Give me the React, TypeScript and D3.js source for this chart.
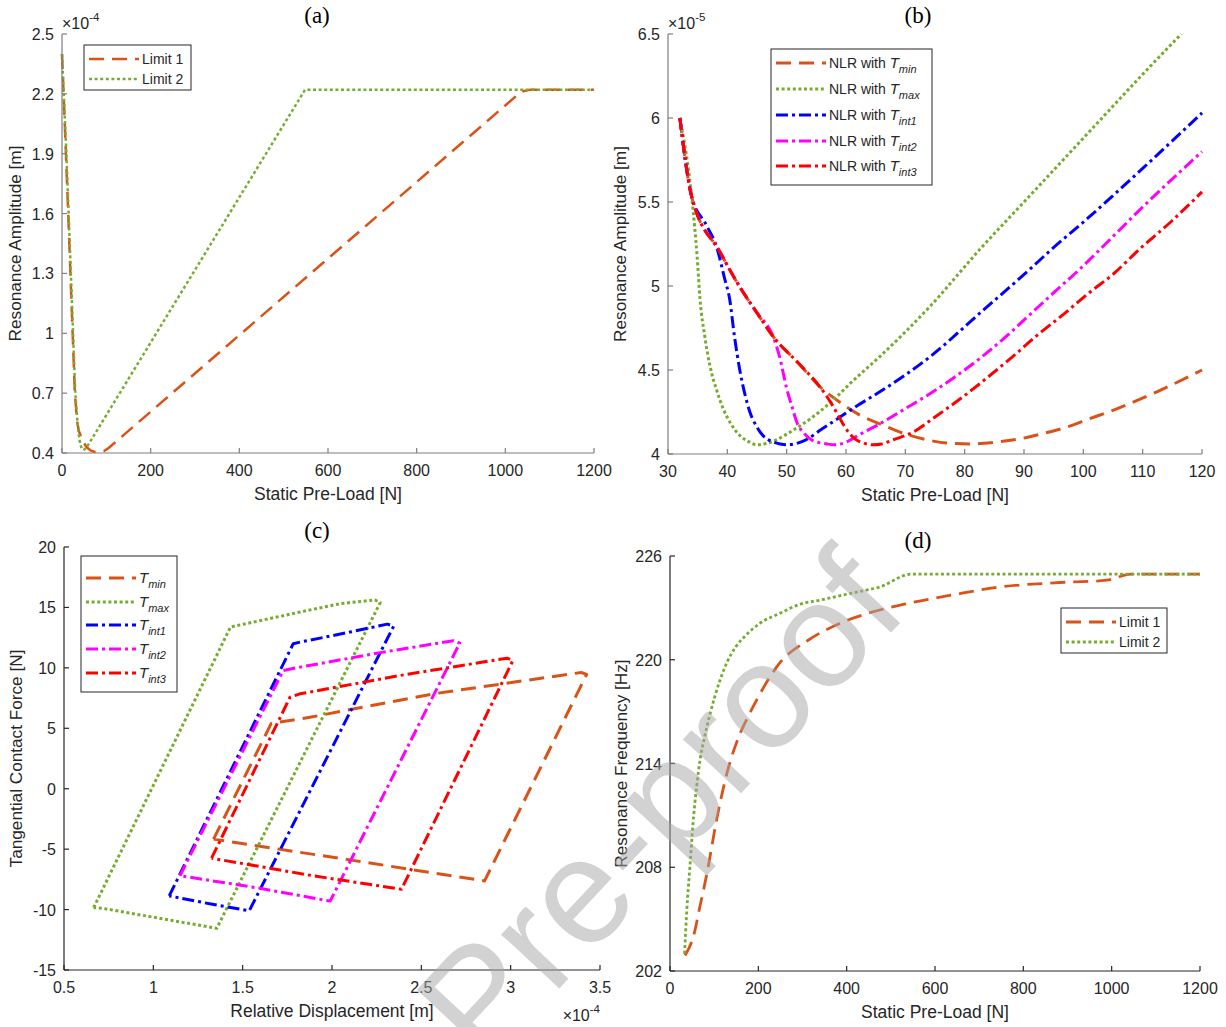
import { useEffect, useRef } from 'react'
import * as d3 from 'd3'

type Pt = [number, number]

// (a) resonance amplitude [x1e-4 m] vs static pre-load [N]
const aLimit1: Pt[] = [[0, 2.4], [8, 1.95], [14, 1.6], [19, 1.3], [24, 1.0], [29, 0.7], [34, 0.56], [38, 0.51], [45, 0.47], [55, 0.43], [65, 0.412], [75, 0.405], [85, 0.405], [95, 0.41], [105, 0.425], [113, 0.44], [1025, 2.19], [1040, 2.213], [1055, 2.22], [1200, 2.22]]
const aLimit2: Pt[] = [[0, 2.4], [9, 1.95], [15, 1.6], [20, 1.3], [25, 1.0], [30, 0.7], [35, 0.55], [38, 0.49], [41, 0.445], [45, 0.42], [48, 0.415], [52, 0.42], [58, 0.437], [548, 2.22], [1200, 2.22]]
const aXTicks = [0, 200, 400, 600, 800, 1000, 1200]
const aYTicks = [0.4, 0.7, 1, 1.3, 1.6, 1.9, 2.2, 2.5]

// (b) resonance amplitude [x1e-5 m] vs static pre-load [N]
const bTmin: Pt[] = [[32, 6.0], [34, 5.53], [38.8, 5.2], [42, 5.0], [45, 4.84], [47.7, 4.7], [52, 4.54], [55.6, 4.4], [58.5, 4.32], [62.4, 4.23], [66, 4.175], [69.1, 4.13], [73.6, 4.085], [77, 4.065], [80.9, 4.06], [85, 4.07], [89.3, 4.09], [93, 4.12], [97.2, 4.16], [101, 4.21], [105, 4.26], [108.5, 4.31], [112.4, 4.37], [116, 4.43], [120, 4.5]]
const bTmax: Pt[] = [[32, 6.0], [34, 5.53], [34.5, 5.35], [34.9, 5.18], [35.4, 4.92], [36.2, 4.7], [37.1, 4.52], [38.2, 4.38], [39.3, 4.27], [40.6, 4.18], [42.1, 4.11], [43.5, 4.075], [45, 4.055], [48, 4.08], [51, 4.14], [54, 4.21], [57.8, 4.32], [61, 4.43], [65.7, 4.58], [74.2, 4.88], [82.6, 5.22], [90, 5.5], [100, 5.88], [110, 6.26], [116.5, 6.5]]
const bTint1: Pt[] = [[32, 6.0], [34, 5.53], [36.5, 5.36], [38.3, 5.22], [39.5, 5.05], [40.4, 4.92], [41.2, 4.7], [42.1, 4.5], [43, 4.35], [43.8, 4.25], [45, 4.16], [46, 4.11], [47.5, 4.075], [48.9, 4.06], [50, 4.055], [53, 4.08], [56, 4.15], [59, 4.22], [62, 4.29], [65.7, 4.37], [74.2, 4.58], [82.6, 4.84], [91, 5.1], [94.7, 5.22], [100, 5.38], [110, 5.7], [120, 6.03]]
const bTint2: Pt[] = [[32, 6.0], [34, 5.53], [38.8, 5.2], [42, 5.0], [45, 4.84], [47.7, 4.7], [48.8, 4.58], [50, 4.39], [51, 4.27], [51.7, 4.19], [53, 4.12], [54.4, 4.08], [56.8, 4.06], [58, 4.055], [60, 4.07], [62, 4.11], [65.7, 4.18], [70, 4.27], [74.2, 4.36], [78, 4.45], [82.6, 4.57], [87, 4.7], [91, 4.83], [95, 4.96], [99.4, 5.1], [102.3, 5.2], [110, 5.47], [120, 5.8]]
const bTint3: Pt[] = [[32, 6.0], [34, 5.53], [38.8, 5.2], [42, 5.0], [45, 4.84], [47.7, 4.7], [52, 4.54], [55.6, 4.4], [57.8, 4.285], [59, 4.21], [60.2, 4.14], [61.5, 4.09], [63, 4.065], [64.6, 4.055], [66, 4.06], [68, 4.085], [71.3, 4.13], [75, 4.22], [79.7, 4.34], [84, 4.46], [88.1, 4.58], [92, 4.7], [96.6, 4.83], [101, 4.96], [105, 5.07], [109.5, 5.22], [115, 5.39], [120, 5.56]]
const bXTicks = [30, 40, 50, 60, 70, 80, 90, 100, 110, 120]
const bYTicks = [4, 4.5, 5, 5.5, 6, 6.5]

// (c) tangential contact force [N] vs relative displacement [x1e-4 m]
const cTmin: Pt[] = [[1.337, -4.17], [1.66, 5.4], [1.877, 5.91], [2.567, 7.85], [3.395, 9.62], [3.425, 9.45], [2.854, -7.63], [2.134, -5.97], [1.337, -4.17]]
const cTmax: Pt[] = [[0.666, -9.84], [1.432, 13.38], [1.821, 14.62], [2.045, 15.31], [2.24, 15.62], [2.27, 15.4], [1.355, -11.55], [1.027, -10.7], [0.717, -9.9], [0.666, -9.84]]
const cTint1: Pt[] = [[1.089, -8.87], [1.783, 12.0], [1.821, 12.13], [2.101, 12.96], [2.31, 13.62], [2.345, 13.45], [1.537, -10.1], [1.315, -9.52], [1.089, -8.87]]
const cTint2: Pt[] = [[1.149, -7.2], [1.727, 9.78], [1.821, 10.06], [2.287, 11.3], [2.68, 12.25], [2.715, 12.05], [1.99, -9.3], [1.581, -8.2], [1.149, -7.2]]
const cTint3: Pt[] = [[1.326, -5.75], [1.765, 7.57], [1.821, 7.85], [2.381, 9.37], [2.98, 10.8], [3.012, 10.6], [2.389, -8.32], [1.913, -7.25], [1.326, -5.75]]
const cXTicks = [0.5, 1, 1.5, 2, 2.5, 3, 3.5]
const cYTicks = [-15, -10, -5, 0, 5, 10, 15, 20]

// (d) resonance frequency [Hz] vs static pre-load [N]
const dLimit1: Pt[] = [[34, 202.9], [54, 204.1], [67.5, 205.7], [85.6, 207.9], [103.7, 210.5], [130.6, 213.6], [155, 215.5], [180.5, 216.9], [212, 218.4], [248, 219.8], [311, 221.1], [384, 222.1], [450, 222.7], [528, 223.2], [640, 223.75], [745, 224.2], [870, 224.45], [989, 224.6], [1044, 224.95], [1200, 224.95]]
const dLimit2: Pt[] = [[33, 203.0], [38, 205.5], [45, 208.0], [52, 210.5], [60, 212.6], [68, 214.2], [78, 215.5], [90, 216.8], [113, 218.8], [130, 219.9], [149, 220.75], [175, 221.5], [203, 222.1], [250, 222.7], [293, 223.2], [340, 223.45], [384, 223.7], [430, 223.95], [474, 224.2], [546, 224.95], [1200, 224.95]]
const dXTicks = [0, 200, 400, 600, 800, 1000, 1200]
const dYTicks = [202, 208, 214, 220, 226]

const SANS = '"Liberation Sans", Arial, Helvetica, sans-serif'
const SERIF = '"Liberation Serif", "Times New Roman", serif'
const TXT = '#262626'

const STYLE: Record<string, { color: string; dash: string }> = {
  dash: { color: '#D95319', dash: '15 8' },
  dot: { color: '#77AC30', dash: '3 2.6' },
  blue: { color: '#0000FF', dash: '12 4 3 4' },
  mag: { color: '#FF00FF', dash: '12 4 3 4' },
  red: { color: '#FF0000', dash: '12 4 3 4' },
}

type Item = { style: string; label?: string; prefix?: string; sub?: string }

const fmt = (d: number) => String(+d.toFixed(2))

export default function App() {
  const ref = useRef<SVGSVGElement>(null)

  useEffect(() => {
    document.body.style.margin = '0'
    const svg = d3.select(ref.current)
    svg.selectAll('*').remove()

    const panels = [
      {
        box: [62, 594, 34, 453], xd: [0, 1200], yd: [0.4, 2.5], xt: aXTicks, yt: aYTicks, axis: '#7f7f7f',
        xLabel: 'Static Pre-Load [N]', yLabel: 'Resonance Amplitude [m]', ylx: 15,
        exp: { p: '-4', x: 62, y: 29, anchor: 'start' }, title: { t: '(a)', x: 317, y: 23 }, curve: d3.curveLinear, w: 2.5,
        series: [{ data: aLimit1, style: 'dash' }, { data: aLimit2, style: 'dot' }],
        legend: { x: 84, y: 45, w: 107, h: 45, rows: [59, 79], items: [{ style: 'dash', label: 'Limit 1' }, { style: 'dot', label: 'Limit 2' }] as Item[] },
      },
      {
        box: [668, 1202, 34, 454], xd: [30, 120], yd: [4, 6.5], xt: bXTicks, yt: bYTicks, axis: '#7f7f7f',
        xLabel: 'Static Pre-Load [N]', yLabel: 'Resonance Amplitude [m]', ylx: 620,
        exp: { p: '-5', x: 668, y: 29, anchor: 'start' }, title: { t: '(b)', x: 918, y: 23 }, curve: d3.curveMonotoneX, w: 3,
        series: [{ data: bTmin, style: 'dash' }, { data: bTmax, style: 'dot' }, { data: bTint1, style: 'blue' }, { data: bTint2, style: 'mag' }, { data: bTint3, style: 'red' }],
        legend: {
          x: 771, y: 49, w: 161, h: 136, rows: [63, 89, 115, 141, 166], items: [
            { style: 'dash', prefix: 'NLR with ', sub: 'min' }, { style: 'dot', prefix: 'NLR with ', sub: 'max' },
            { style: 'blue', prefix: 'NLR with ', sub: 'int1' }, { style: 'mag', prefix: 'NLR with ', sub: 'int2' },
            { style: 'red', prefix: 'NLR with ', sub: 'int3' }] as Item[],
        },
      },
      {
        box: [64, 600, 547, 970], xd: [0.5, 3.5], yd: [-15, 20], xt: cXTicks, yt: cYTicks, axis: '#262626',
        xLabel: 'Relative Displacement [m]', yLabel: 'Tangential Contact Force [N]', ylx: 16,
        exp: { p: '-4', x: 600, y: 1021, anchor: 'end' }, title: { t: '(c)', x: 317, y: 538 }, curve: d3.curveLinear, w: 3,
        series: [{ data: cTmin, style: 'dash' }, { data: cTmax, style: 'dot' }, { data: cTint1, style: 'blue' }, { data: cTint2, style: 'mag' }, { data: cTint3, style: 'red' }],
        legend: {
          x: 81, y: 556, w: 96, h: 136, rows: [578, 602, 625, 649, 673], items: [
            { style: 'dash', sub: 'min' }, { style: 'dot', sub: 'max' }, { style: 'blue', sub: 'int1' },
            { style: 'mag', sub: 'int2' }, { style: 'red', sub: 'int3' }] as Item[],
        },
      },
      {
        box: [670, 1200, 556, 971], xd: [0, 1200], yd: [202, 226], xt: dXTicks, yt: dYTicks, axis: '#262626',
        xLabel: 'Static Pre-Load [N]', yLabel: 'Resonance Frequency [Hz]', ylx: 621,
        exp: null, title: { t: '(d)', x: 918, y: 548 }, curve: d3.curveMonotoneX, w: 2.8,
        series: [{ data: dLimit1, style: 'dash' }, { data: dLimit2, style: 'dot' }],
        legend: { x: 1061, y: 608, w: 106, h: 45, rows: [622, 642], items: [{ style: 'dash', label: 'Limit 1' }, { style: 'dot', label: 'Limit 2' }] as Item[] },
      },
    ]

    panels.forEach(p => {
      const [l, r, t, b] = p.box
      const x = d3.scaleLinear().domain(p.xd).range([l, r])
      const y = d3.scaleLinear().domain(p.yd).range([b, t])
      const g = svg.append('g')

      // curves
      const line = d3.line<Pt>().x(d => x(d[0])).y(d => y(d[1])).curve(p.curve)
      p.series.forEach(s => {
        g.append('path').datum(s.data).attr('d', line)
          .attr('fill', 'none').attr('stroke', STYLE[s.style].color).attr('stroke-width', p.w)
          .attr('stroke-dasharray', STYLE[s.style].dash).attr('stroke-linejoin', 'round')
      })

      // axes (left + bottom, ticks inward)
      g.append('line').attr('x1', l).attr('x2', l).attr('y1', t).attr('y2', b).attr('stroke', p.axis).attr('stroke-width', 1.2)
      g.append('line').attr('x1', l).attr('x2', r).attr('y1', b).attr('y2', b).attr('stroke', p.axis).attr('stroke-width', 1.2)
      p.xt.forEach(v => {
        g.append('line').attr('x1', x(v)).attr('x2', x(v)).attr('y1', b).attr('y2', b - 5).attr('stroke', p.axis).attr('stroke-width', 1.2)
        g.append('text').attr('x', x(v)).attr('y', b + 23).attr('text-anchor', 'middle')
          .attr('font-family', SANS).attr('font-size', 16).attr('fill', TXT).text(fmt(v))
      })
      p.yt.forEach(v => {
        g.append('line').attr('x1', l).attr('x2', l + 5).attr('y1', y(v)).attr('y2', y(v)).attr('stroke', p.axis).attr('stroke-width', 1.2)
        g.append('text').attr('x', l - 8).attr('y', y(v) + 6).attr('text-anchor', 'end')
          .attr('font-family', SANS).attr('font-size', 16).attr('fill', TXT).text(fmt(v))
      })

      g.append('text').attr('x', (l + r) / 2).attr('y', b + 47).attr('text-anchor', 'middle')
        .attr('font-family', SANS).attr('font-size', 17.5).attr('fill', TXT).text(p.xLabel)
      g.append('text').attr('transform', `translate(${p.ylx},${(t + b) / 2}) rotate(-90)`).attr('dy', '0.35em')
        .attr('text-anchor', 'middle').attr('font-family', SANS).attr('font-size', 17.2).attr('fill', TXT).text(p.yLabel)

      if (p.exp) {
        const e = g.append('text').attr('x', p.exp.x).attr('y', p.exp.y).attr('text-anchor', p.exp.anchor)
          .attr('font-family', SANS).attr('font-size', 16).attr('fill', TXT)
        e.append('tspan').text('×10')
        e.append('tspan').attr('font-size', 11.5).attr('dy', -8).text(p.exp.p)
      }

      g.append('text').attr('x', p.title.x).attr('y', p.title.y).attr('text-anchor', 'middle')
        .attr('font-family', SERIF).attr('font-size', 23).attr('fill', '#000').text(p.title.t)

      // legend
      const L = p.legend
      g.append('rect').attr('x', L.x).attr('y', L.y).attr('width', L.w).attr('height', L.h)
        .attr('fill', '#fff').attr('stroke', TXT).attr('stroke-width', 1)
      L.items.forEach((it, i) => {
        const ry = L.rows[i]
        g.append('line').attr('x1', L.x + 5).attr('x2', L.x + 55).attr('y1', ry).attr('y2', ry)
          .attr('stroke', STYLE[it.style].color).attr('stroke-width', p.w).attr('stroke-dasharray', STYLE[it.style].dash)
        const tx = g.append('text').attr('x', L.x + 58).attr('y', ry + 5)
          .attr('font-family', SANS).attr('font-size', 14).attr('fill', TXT)
        if (it.sub) {
          if (it.prefix) tx.append('tspan').text(it.prefix)
          tx.append('tspan').attr('font-style', 'italic').attr('font-size', 15).text('T')
          tx.append('tspan').attr('font-style', 'italic').attr('font-size', 11).attr('dy', 5).text(it.sub)
        } else tx.text(it.label ?? '')
      })
    })

    // watermark
    svg.append('text').attr('transform', 'translate(872,576) rotate(-47)')
      .attr('text-anchor', 'end').attr('dy', '0.35em')
      .attr('font-family', SANS).attr('font-size', 150).attr('fill', '#a6a6a6').attr('opacity', 0.5)
      .text('Pre-proof')
  }, [])

  return <svg ref={ref} width={1226} height={1027} style={{ display: 'block', background: '#fff' }} />
}
